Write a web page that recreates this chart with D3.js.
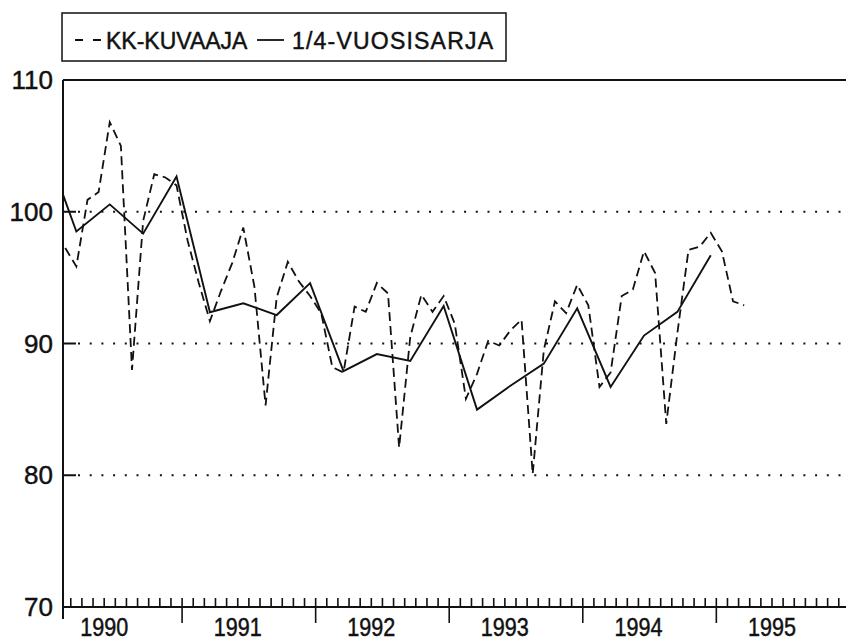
<!DOCTYPE html>
<html>
<head>
<meta charset="utf-8">
<script src="https://cdn.jsdelivr.net/npm/d3@7"></script>
<style>
    body { margin: 0; background: #fff; }
    svg { display: block; font-family: "Liberation Sans", Arial, sans-serif; }
    svg text { fill: #111; stroke: #111; stroke-width: 0.45px; }
    .grid { stroke: #111; stroke-width: 2; stroke-dasharray: 2,9.7; }
</style>
</head>
<body>
<div id="chart"></div>
<script>
// monthly index: 0 = Jan 1990
var kkStart = 1   // first monthly value is Feb 1990
var kkValues = [97.25, 95.85, 100.9, 101.5, 106.8, 105.0, 88.0, 99.3, 102.85, 102.6, 102.0,
    97.8, 94.6, 91.7, 94.0, 96.1, 98.8, 94.3, 85.3, 93.5, 96.2, 94.7, 93.6,
    92.3, 88.2, 87.8, 92.8, 92.4, 94.6, 93.8, 82.1, 90.5, 93.7, 92.4, 93.6,
    91.5, 85.8, 87.7, 90.2, 89.85, 91.0, 91.8, 80.1, 89.5, 93.2, 92.3, 94.45,
    92.9, 86.7, 87.8, 93.6, 94.1, 97.0, 95.35, 83.9, 90.8, 97.1, 97.35, 98.4,
    97.0, 93.2, 92.9]

// quarterly series, plotted at the last month of each quarter
var quarterMonths = [-1, 2, 5, 8, 11, 14, 17, 20, 23, 26, 29, 32, 35, 38, 41, 44, 47, 50, 53, 56, 59]
var quarterValues = [105.5, 98.5, 100.56, 98.34, 102.67, 92.37, 93.05, 92.16, 94.58, 87.9, 89.2,
    88.67, 92.85, 84.98, 86.8, 88.47, 92.67, 86.7, 90.6, 92.4, 96.7]

var yTicks = [70, 80, 90, 100, 110]
var yearLabels = ["1990", "1991", "1992", "1993", "1994", "1995"]
var legendLabels = ["KK-KUVAAJA", "1/4-VUOSISARJA"]

var width = 846, height = 642
var plotLeft = 63, plotRight = 846, plotTop = 80, plotBottom = 607

var svg = d3.select("#chart").append("svg")
    .attr("width", width)
    .attr("height", height)

var xScale = d3.scaleLinear()
    .domain([1.3, 71.65])
    .range([plotLeft, plotRight])

var yScale = d3.scaleLinear()
    .domain([70, 110])
    .range([plotBottom, plotTop])

/* dotted grid + short ticks */
var inner = yTicks.filter(d => d > 70 && d < 110)
svg.append("g").selectAll("line")
    .data(inner).enter()
    .append("line")
    .attr("class", "grid")
    .attr("x1", plotLeft + 15).attr("x2", plotRight)
    .attr("y1", d => yScale(d)).attr("y2", d => yScale(d))

svg.append("g").selectAll("line")
    .data(inner).enter()
    .append("line")
    .attr("x1", plotLeft).attr("x2", plotLeft + 13)
    .attr("y1", d => yScale(d)).attr("y2", d => yScale(d))
    .style("stroke", "#111").style("stroke-width", 2)

svg.append("g").selectAll("text")
    .data(yTicks).enter()
    .append("text")
    .attr("x", plotLeft - 10)
    .attr("y", d => yScale(d) + 9)
    .attr("text-anchor", "end")
    .style("font-size", "26px")
    .text(d => d)

/* frame */
svg.append("line")
    .attr("x1", plotLeft).attr("x2", plotRight)
    .attr("y1", yScale(110)).attr("y2", yScale(110))
    .style("stroke", "#111").style("stroke-width", 2)
svg.append("line")
    .attr("x1", plotLeft).attr("x2", plotLeft)
    .attr("y1", yScale(110)).attr("y2", plotBottom + 12)
    .style("stroke", "#111").style("stroke-width", 2)
svg.append("line")
    .attr("x1", plotLeft).attr("x2", plotRight)
    .attr("y1", plotBottom).attr("y2", plotBottom)
    .style("stroke", "#111").style("stroke-width", 2)

/* month ticks and year ticks */
var monthTicks = d3.range(Math.ceil(xScale.domain()[0]), Math.floor(xScale.domain()[1]) + 1)
svg.append("g").selectAll("line")
    .data(monthTicks).enter()
    .append("line")
    .attr("x1", d => xScale(d)).attr("x2", d => xScale(d))
    .attr("y1", plotBottom - 9)
    .attr("y2", d => d % 12 === 0 ? plotBottom + 16 : plotBottom)
    .style("stroke", "#111").style("stroke-width", 1.6)

// year labels are narrow in the original, squeeze them a bit
svg.append("g").selectAll("text")
    .data(yearLabels).enter()
    .append("text")
    .attr("x", (d, i) => xScale(i * 12 + 5) - 24)
    .attr("y", 636)
    .attr("textLength", 48)
    .attr("lengthAdjust", "spacingAndGlyphs")
    .style("font-size", "25px")
    .text(d => d)

/* lines */
svg.append("clipPath").attr("id", "plot")
    .append("rect")
    .attr("x", plotLeft).attr("y", plotTop)
    .attr("width", plotRight - plotLeft).attr("height", plotBottom - plotTop)

var line = d3.line()
    .x(d => xScale(d[0] + 0.5))
    .y(d => yScale(d[1]))

var kkData = kkValues.map((v, i) => [kkStart + i, v])
var qData = quarterValues.map((v, i) => [quarterMonths[i], v])

var lines = svg.append("g").attr("clip-path", "url(#plot)")
lines.append("path")
    .attr("d", line(kkData))
    .style("fill", "none")
    .style("stroke", "#111")
    .style("stroke-width", 1.8)
    .style("stroke-dasharray", "9,5")
lines.append("path")
    .attr("d", line(qData))
    .style("fill", "none")
    .style("stroke", "#111")
    .style("stroke-width", 1.9)

/* legend */
var legend = svg.append("g")
legend.append("rect")
    .attr("x", 62).attr("y", 13)
    .attr("width", 444).attr("height", 48)
    .style("fill", "none").style("stroke", "#111").style("stroke-width", 1.5)
legend.append("line")
    .attr("x1", 75).attr("x2", 101).attr("y1", 40).attr("y2", 40)
    .style("stroke", "#111").style("stroke-width", 1.8).style("stroke-dasharray", "8,10")
legend.append("text")
    .attr("x", 106).attr("y", 49)
    .style("font-size", "23px")
    .text(legendLabels[0])
legend.append("line")
    .attr("x1", 257).attr("x2", 284).attr("y1", 40).attr("y2", 40)
    .style("stroke", "#111").style("stroke-width", 1.8)
legend.append("text")
    .attr("x", 292).attr("y", 49)
    .attr("textLength", 201)
    .style("font-size", "23px")
    .text(legendLabels[1])
</script>
</body>
</html>
